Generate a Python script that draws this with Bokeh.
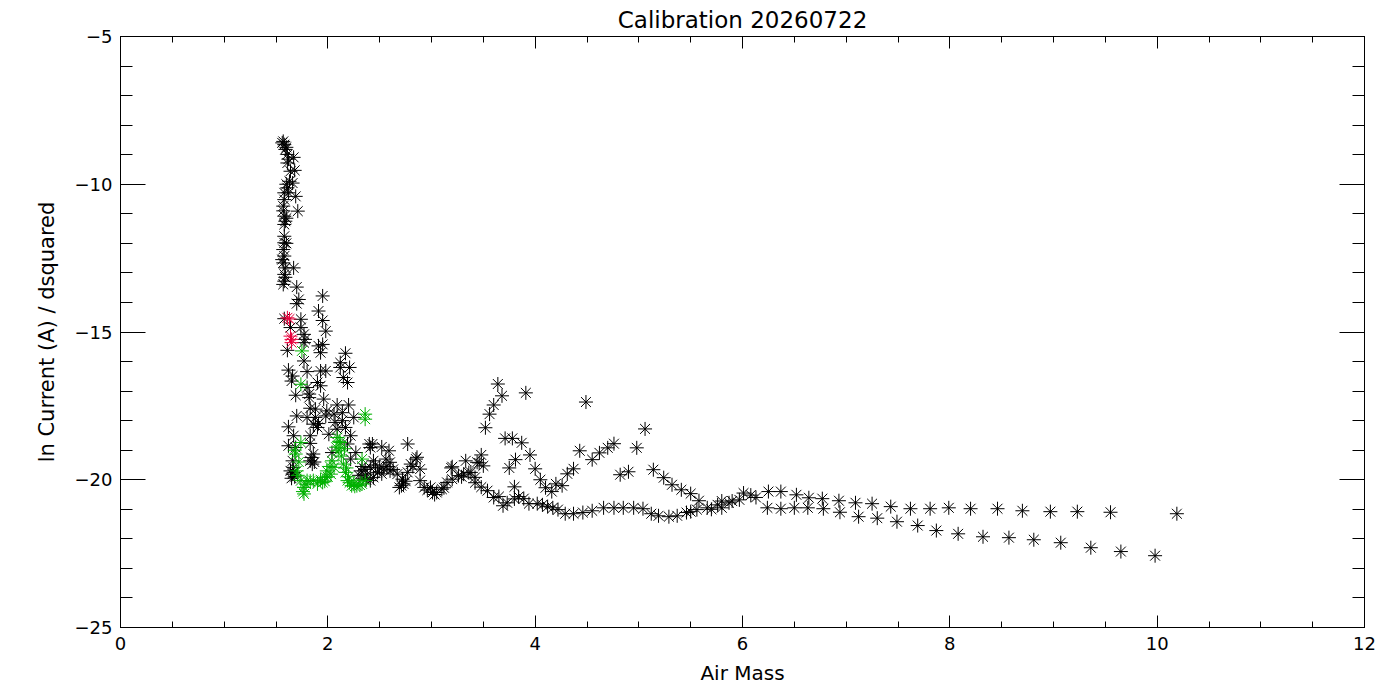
from bokeh.plotting import figure
from bokeh.models import LinearAxis, FixedTicker, Range1d, ColumnDataSource
from bokeh.embed import file_html
from bokeh.resources import INLINE

# ---------------- data ----------------
title_text = "Calibration 20260722"
x_label = "Air Mass"
y_label = "ln Current (A) / dsquared"

x_ticks = [0, 2, 4, 6, 8, 10, 12]
x_minor = [i * 0.5 for i in range(0, 25)]
y_ticks = [-25, -20, -15, -10, -5]
y_minor = list(range(-25, -4))
y_tick_labels = {-25: "\u221225", -20: "\u221220", -15: "\u221215", -10: "\u221210", -5: "\u22125"}

# black points (all measurements)
airmass_black = [
    # steep left column
    1.57, 1.58, 1.59, 1.61, 1.67, 1.61, 1.64, 1.68, 1.63, 1.66, 1.61, 1.58, 1.62, 1.69, 1.58, 1.57, 1.71, 1.58, 1.59, 1.58,
    1.56, 1.60, 1.62, 1.60, 1.57, 1.60,
    1.58, 1.58, 1.57, 1.58, 1.57, 1.59, 1.67, 1.58, 1.58, 1.57, 1.56, 1.59, 1.60,
    # scatter -13.5 .. -15
    1.70, 1.95, 1.72, 1.70, 1.91, 1.95, 1.74, 1.64, 1.74, 1.98, 1.58,
    # scatter -15 .. -17.3
    1.77, 1.77, 1.61, 1.91, 1.95, 1.93, 1.77, 2.17, 2.12, 2.12, 2.21, 2.19, 2.15, 1.62, 1.66, 1.65, 1.80, 1.93, 1.98,
    1.90, 1.93, 1.80, 1.82, 1.82, 1.69, 1.96, 1.78,
    # scatter -17.3 .. -18.6
    2.09, 2.20, 1.83, 1.88, 1.99, 2.06, 2.14, 1.70, 1.80, 1.88, 1.98, 2.25, 1.86, 1.91, 2.07, 2.14, 1.62, 1.90, 2.09,
    2.17, 2.01, 2.22, 1.67, 1.83,
    # -18.7 .. -20 near the bend
    1.83, 1.62, 1.69, 2.19, 2.40, 2.41, 1.86, 2.04, 2.27, 2.22, 1.83, 1.85, 1.66, 1.67, 1.66, 1.64, 1.68, 1.65, 1.67,
    1.84, 1.87, 2.32, 2.38, 2.41, 2.44, 2.41, 2.33, 2.36, 2.30, 2.34, 2.37,
    # band 2.4 .. 3.45
    2.43, 2.52, 2.59, 2.77, 2.48, 2.54, 2.60, 2.56, 2.60, 2.44, 2.50, 2.46, 2.52, 2.57, 2.63, 2.67, 2.72, 2.69, 2.73,
    2.77, 2.80, 2.85, 2.86, 2.89, 2.89, 2.93, 2.99, 3.01, 3.05, 3.10, 3.15, 3.20, 3.20, 3.26, 3.31, 3.33, 3.38, 3.42,
    3.44, 2.75, 2.82, 2.96, 3.03, 2.71, 3.12, 3.36, 3.29, 3.19,
    # lower curve 3.4 .. 5.6
    3.42, 3.48, 3.54, 3.60, 3.65, 3.69, 3.73, 3.80, 3.84, 3.89, 3.94, 4.02, 4.07, 4.12, 4.17, 4.22, 4.29, 4.37, 4.46,
    4.55, 4.66, 4.76, 4.85, 4.95, 5.04, 5.12, 5.19, 5.29, 5.37, 5.46, 5.56, 5.50,
    # upper scatter 3.45 .. 5.6
    3.48, 3.50, 3.46, 3.64, 3.68, 3.60, 3.56, 3.52, 3.91, 4.49, 5.06, 4.98, 3.71, 3.78, 3.87, 3.95, 4.00, 4.05, 4.10,
    4.16, 4.20, 4.26, 4.31, 4.37, 4.43, 4.55, 4.62, 4.70, 4.76, 4.82, 4.90, 5.14, 5.24, 5.32, 5.41, 5.50, 5.58, 3.75,
    3.81, 3.80,
    # 5.6 .. 6.4
    5.66, 5.76, 5.80, 5.87, 5.90, 5.97, 6.01, 6.08, 6.13, 6.25, 6.37, 5.70, 5.80,
    # upper tail
    6.52, 6.64, 6.77, 6.93, 7.09, 7.25, 7.43, 7.62, 7.81, 7.99, 8.20, 8.46, 8.70, 8.97, 9.23, 9.55, 10.19,
    # lower tail
    6.24, 6.37, 6.50, 6.63, 6.78, 6.94, 7.12, 7.30, 7.49, 7.69, 7.87, 8.08, 8.32, 8.57, 8.81, 9.07, 9.36, 9.65, 9.98,
]
lncur_black = [
    -8.55, -8.66, -8.82, -8.99, -9.09, -9.28, -9.56, -9.53, -9.90, -9.96, -10.12, -10.29, -10.29, -10.41, -10.52, -10.74, -10.91, -11.08, -11.25, -11.36,
    -8.60, -8.75, -9.15, -10.00, -10.90, -11.15,
    -11.76, -11.98, -12.21, -12.43, -12.66, -12.83, -12.83, -13.05, -13.28, -13.39, -12.55, -13.15, -12.00,
    -13.48, -13.78, -13.90, -14.04, -14.29, -14.61, -14.57, -14.85, -14.85, -14.97, -14.55,
    -15.08, -15.36, -15.62, -15.47, -15.42, -15.70, -15.98, -15.72, -16.04, -16.20, -16.20, -16.71, -16.54, -16.29, -16.49, -16.66, -16.34, -16.32, -16.32,
    -16.71, -16.82, -16.88, -17.10, -17.22, -17.14, -17.27, -15.25,
    -17.47, -17.47, -17.58, -17.61, -17.67, -17.78, -17.73, -17.84, -17.89, -17.89, -17.84, -17.89, -18.12, -18.10, -18.06, -18.00, -18.21, -18.23, -18.29,
    -18.23, -18.46, -18.51, -18.51, -18.51,
    -18.77, -18.85, -18.91, -18.79, -18.79, -18.91, -19.13, -19.08, -19.08, -19.30, -19.36, -19.47, -19.36, -19.58, -19.81, -19.70, -19.90, -19.95, -19.75,
    -19.25, -19.40, -19.70, -19.81, -19.58, -19.92, -20.03, -19.55, -19.65, -19.85, -19.95, -20.00,
    -18.79, -18.89, -19.02, -18.79, -19.75, -19.64, -19.70, -19.30, -19.41, -19.36, -19.60, -19.50, -19.80, -19.55, -19.65, -19.81, -19.98, -20.26, -20.14,
    -19.75, -19.47, -19.30, -19.24, -19.64, -20.03, -20.26, -20.26, -20.43, -20.43, -20.32, -20.09, -19.98, -19.56, -19.86, -19.81, -19.36, -19.75, -19.92,
    -19.41, -20.05, -19.55, -20.35, -20.50, -20.20, -20.27, -19.76, -19.90, -19.60,
    -20.10, -20.25, -20.37, -20.60, -20.57, -20.88, -20.78, -20.65, -20.57, -20.64, -20.81, -20.81, -20.85, -20.91, -20.95, -21.01, -21.15, -21.15, -21.11,
    -21.05, -20.95, -20.95, -20.95, -20.95, -20.98, -21.15, -21.22, -21.25, -21.22, -21.11, -21.01, -21.08,
    -19.16, -19.53, -19.43, -16.76, -17.16, -17.47, -17.78, -18.24, -17.06, -17.37, -18.28, -18.92, -18.60, -18.60, -18.75, -19.16, -19.63, -20.00, -20.27,
    -20.40, -20.14, -20.20, -19.80, -19.63, -19.02, -19.32, -19.09, -18.92, -18.78, -19.83, -19.73, -19.66, -19.93, -20.17, -20.34, -20.47, -20.71, -19.60,
    -19.32, -20.24,
    -20.95, -20.85, -20.72, -20.78, -20.72, -20.68, -20.45, -20.52, -20.60, -20.40, -20.40, -21.00, -20.95,
    -20.51, -20.61, -20.64, -20.71, -20.78, -20.81, -20.91, -20.98, -20.98, -20.95, -20.98, -20.98, -21.05, -21.08, -21.08, -21.10, -21.15,
    -20.95, -20.98, -20.95, -20.95, -20.98, -21.10, -21.25, -21.30, -21.42, -21.55, -21.72, -21.83, -21.93, -21.96, -22.03, -22.13, -22.30, -22.43, -22.57,
]

# green points (selected subset)
airmass_green = [
    1.75, 1.74, 2.36, 2.36, 1.74, 2.09, 2.12, 1.69, 2.10, 2.33, 2.04, 2.06, 2.03, 2.15, 2.17, 1.70, 1.74, 1.77, 1.77,
    1.80, 1.86, 1.90, 1.95, 1.98, 1.99, 2.19, 2.23, 2.28, 2.33, 2.36, 2.08, 2.13, 2.00, 1.72, 1.68, 1.83, 1.76, 2.25,
    2.31, 2.20, 2.18, 2.11, 2.16, 1.79, 1.93, 1.71, 2.02, 1.97, 2.21, 2.26,
]
lncur_green = [
    -15.64, -16.77, -17.78, -17.95, -18.74, -18.57, -18.74, -19.13, -19.02, -19.30, -19.36, -19.58, -19.81, -19.47, -19.75, -19.70, -20.03, -20.26, -20.48,
    -20.03, -20.03, -20.14, -20.09, -19.92, -19.70, -20.03, -20.20, -20.20, -20.14, -20.03, -18.90, -19.20, -19.90, -19.40, -19.00, -20.05, -20.40, -20.15,
    -20.18, -19.90, -19.60, -18.70, -18.95, -20.15, -20.00, -19.85, -19.55, -20.05, -20.10, -20.22,
]

# red points
airmass_red = [1.61, 1.63, 1.64, 1.65, 1.65]
lncur_red = [-14.52, -14.56, -15.14, -15.36, -15.25]

# ---------------- figure ----------------
FONT = "DejaVu Sans"

p = figure(width=1392, height=692, output_backend="svg", toolbar_location=None,
           x_range=Range1d(0, 12), y_range=Range1d(-25, -5),
           x_axis_location=None, y_axis_location=None,
           min_border_left=120, min_border_right=28, min_border_top=35, min_border_bottom=65,
           background_fill_color="white", border_fill_color="white")
p.grid.visible = False
p.outline_line_color = "black"
p.outline_line_width = 1

p.title.text = title_text
p.title.align = "center"
p.title.text_font = FONT
p.title.text_font_size = "23px"
p.title.text_font_style = "normal"
p.title.text_color = "black"
p.title.offset = 0
p.title.standoff = 8


def style_axis(ax, major_len, minor_len, labels=True):
    ax.axis_line_color = "black"
    ax.major_tick_line_color = "black"
    ax.minor_tick_line_color = "black"
    ax.major_tick_in = major_len
    ax.major_tick_out = 0
    ax.minor_tick_in = minor_len
    ax.minor_tick_out = 0
    ax.major_label_text_font = FONT
    ax.major_label_text_font_size = "18px"
    ax.major_label_text_color = "black"
    ax.axis_label_text_font = FONT
    ax.axis_label_text_font_size = "20px"
    ax.axis_label_text_font_style = "normal"
    ax.axis_label_text_color = "black"
    if not labels:
        ax.major_label_text_font_size = "0px"
        ax.major_label_text_color = None
        ax.major_label_standoff = 0
        ax.axis_label = None


xb = LinearAxis(ticker=FixedTicker(ticks=x_ticks, minor_ticks=x_minor), axis_label=x_label)
style_axis(xb, 12, 6)
xb.major_label_standoff = 9
xb.axis_label_standoff = 8
p.add_layout(xb, "below")

xt = LinearAxis(ticker=FixedTicker(ticks=x_ticks, minor_ticks=x_minor))
style_axis(xt, 12, 6, labels=False)
p.add_layout(xt, "above")

yl = LinearAxis(ticker=FixedTicker(ticks=y_ticks, minor_ticks=y_minor), axis_label=y_label)
style_axis(yl, 25, 12)
yl.major_label_overrides = y_tick_labels
yl.major_label_standoff = 8
yl.axis_label_standoff = 13
yl.axis_label_text_font_size = "21px"
p.add_layout(yl, "left")

yr = LinearAxis(ticker=FixedTicker(ticks=y_ticks, minor_ticks=y_minor))
style_axis(yr, 25, 12, labels=False)
p.add_layout(yr, "right")

src_black = ColumnDataSource(dict(x=airmass_black, y=lncur_black))
src_green = ColumnDataSource(dict(x=airmass_green, y=lncur_green))
src_red = ColumnDataSource(dict(x=airmass_red, y=lncur_red))

p.scatter("x", "y", source=src_black, marker="asterisk", size=14, line_color="black", line_width=1)
p.scatter("x", "y", source=src_green, marker="asterisk", size=14, line_color="#00b000", line_width=1)
p.scatter("x", "y", source=src_red, marker="asterisk", size=14, line_color="#e8003c", line_width=1)

open("out.html", "w").write(file_html(p, INLINE))
